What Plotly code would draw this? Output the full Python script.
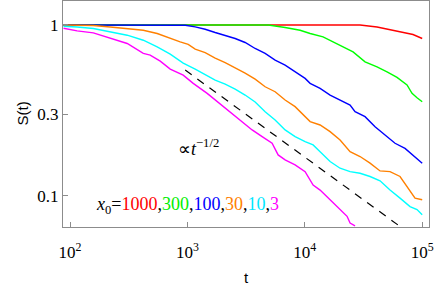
import plotly.graph_objects as go

# x0 = 1000 (red)
t_red = [88, 10000, 29550, 41240, 53210, 68650, 83500, 100000]
s_red = [1.0, 1.0, 1.0, 0.973, 0.940, 0.906, 0.879, 0.833]

# x0 = 300 (green)
t_green = [88, 4890, 6797, 9120, 11100, 14310, 17410, 21180, 25770, 32600,
           41240, 50170, 61030, 74240, 81890, 90330, 100000]
s_green = [1.0, 1.0, 0.9656, 0.9313, 0.8909, 0.8511, 0.7958, 0.7438, 0.6958, 0.6082,
           0.5687, 0.5316, 0.4930, 0.4450, 0.3977, 0.3748, 0.3553]

# x0 = 100 (blue)
t_blue = [88, 587, 961, 1165, 1417, 1724, 2097, 2551, 3103, 3776, 4593, 5587, 6797,
          8268, 10060, 11100, 13500, 16420, 19970, 24300, 26800, 32600, 39660,
          48250, 58690, 71400, 86860, 100000]
s_blue = [1.0, 1.0, 0.996, 0.9735, 0.9438, 0.9029, 0.8708, 0.8329, 0.7894, 0.7279,
          0.6808, 0.6222, 0.5816, 0.5316, 0.4864, 0.4551, 0.4251, 0.3887, 0.3635,
          0.3399, 0.3107, 0.2905, 0.2538, 0.2270, 0.2030, 0.1894, 0.1697, 0.1552]

# x0 = 30 (orange)
t_orange = [88, 158, 220, 307, 421, 553, 714, 868, 1016, 1165, 1417, 1724, 2097,
            2551, 3103, 3776, 4593, 5587, 6797, 8268, 9485, 11100, 13500, 16420,
            19970, 24300, 29550, 35950, 43750, 53210, 64730, 78760, 86860, 100000]
s_orange = [1.0, 0.992, 0.9735, 0.9528, 0.9313, 0.8909, 0.8329, 0.7958, 0.7687,
            0.7212, 0.6882, 0.6391, 0.6017, 0.5625, 0.5224, 0.4819, 0.4346, 0.4065,
            0.3635, 0.3324, 0.3039, 0.2718, 0.2596, 0.2373, 0.2121, 0.1812, 0.1697,
            0.1552, 0.1398, 0.1385, 0.1297, 0.1080, 0.0969, 0.0948]

# x0 = 10 (cyan)
t_cyan = [88, 115, 158, 220, 307, 421, 553, 714, 921, 1165, 1417, 1724, 2097, 2551,
          3103, 3776, 4593, 5587, 6797, 8268, 10060, 11770, 13500, 16420, 19970,
          24300, 29550, 35950, 43750, 53210, 64730, 78760, 90330, 100000]
s_cyan = [0.9827, 0.9735, 0.9528, 0.9102, 0.8708, 0.8140, 0.7438, 0.6745, 0.5976,
          0.5513, 0.5120, 0.4756, 0.4505, 0.4213, 0.3887, 0.3537, 0.3107, 0.2780,
          0.2429, 0.2220, 0.2074, 0.1984, 0.1812, 0.1586, 0.1450, 0.1385, 0.1355,
          0.1297, 0.1223, 0.1080, 0.0969, 0.0865, 0.0830, 0.0775]

# x0 = 3 (magenta)
t_magenta = [88, 115, 158, 220, 307, 421, 482, 587, 714, 921, 1121, 1474, 1901,
             2313, 2870, 3560, 4331, 5268, 5928, 6797, 8268, 10060, 11770, 13500,
             16420, 19970, 22910, 24300, 26800]
s_magenta = [0.9566, 0.9225, 0.8982, 0.8329, 0.7791, 0.6808, 0.6657, 0.6140, 0.5513,
             0.5086, 0.4551, 0.3977, 0.3444, 0.3092, 0.2718, 0.2429, 0.2220, 0.2030,
             0.1734, 0.1622, 0.1517, 0.1385, 0.1155, 0.1080, 0.0948, 0.0830, 0.0758,
             0.0692, 0.0667]

# guide line proportional to t^(-1/2)
t_guide = [958, 100000]
s_guide = [0.544, 0.0532]

series = [
    (t_red, s_red, "#ff0000"),
    (t_green, s_green, "#00ff00"),
    (t_blue, s_blue, "#0000ff"),
    (t_orange, s_orange, "#ff8000"),
    (t_cyan, s_cyan, "#00ffff"),
    (t_magenta, s_magenta, "#ff00ff"),
]

x_tickvals = [100, 1000, 10000, 100000]
x_ticktext = ["10<sup>2</sup>", "10<sup>3</sup>", "10<sup>4</sup>", "10<sup>5</sup>"]
y_tickvals = [0.1, 0.3, 1]
y_ticktext = ["0.1", "0.3", "1"]

fig = go.Figure()
for t, s, c in series:
    fig.add_trace(go.Scatter(x=t, y=s, mode="lines", line=dict(color=c, width=1.4),
                             showlegend=False, hoverinfo="skip"))
fig.add_trace(go.Scatter(x=t_guide, y=s_guide, mode="lines",
                         line=dict(color="black", width=1.2, dash="8px,7px"),
                         showlegend=False, hoverinfo="skip"))

serif = "Liberation Serif, Times New Roman, serif"
sans = "Liberation Sans, Arial, sans-serif"
axis_common = dict(
    type="log", showgrid=False, zeroline=False, showline=True, mirror=True,
    linecolor="#8c8c8c", linewidth=1, ticks="inside", ticklen=5, tickcolor="#8c8c8c",
    tickfont=dict(family=serif, size=17, color="black"), automargin=False,
)
fig.update_xaxes(**axis_common, range=[1.9404, 5.0579], tickvals=x_tickvals,
                 ticktext=x_ticktext, ticklabelstandoff=10)
fig.update_yaxes(**axis_common, range=[-1.1827, 0.1401], tickvals=y_tickvals,
                 ticktext=y_ticktext)

# axis titles
fig.add_annotation(xref="paper", yref="paper", x=-0.142, y=0.5, textangle=-90,
                   showarrow=False, text="S(t)", font=dict(family=sans, size=15, color="black"))
fig.add_annotation(xref="paper", yref="paper", x=0.5, y=-0.27, showarrow=False,
                   text="t", font=dict(family=sans, size=15, color="black"))

fig.add_annotation(xref="paper", yref="paper", x=0.31, y=0.35, xanchor="left",
                   yanchor="middle", showarrow=False,
                   text="∝<i>t</i><sup>−1/2</sup>",
                   font=dict(family=serif, size=18, color="black"))
fig.add_annotation(xref="paper", yref="paper", x=0.085, y=0.095, xanchor="left",
                   yanchor="middle", showarrow=False,
                   text=("<i>x</i><sub>0</sub>=<span style='color:#ff0000'>1000</span>,"
                         "<span style='color:#00ee00'>300</span>,"
                         "<span style='color:#0000ff'>100</span>,"
                         "<span style='color:#ff8000'>30</span>,"
                         "<span style='color:#00e8ff'>10</span>,"
                         "<span style='color:#ff00ff'>3</span>"),
                   font=dict(family=serif, size=18, color="black"))

fig.update_layout(width=436, height=291, margin=dict(l=63, r=7, t=1, b=64),
                  plot_bgcolor="white", paper_bgcolor="white")
fig.write_html("out.html", config={"displayModeBar": False},
               post_script="document.body.style.margin='0';")
